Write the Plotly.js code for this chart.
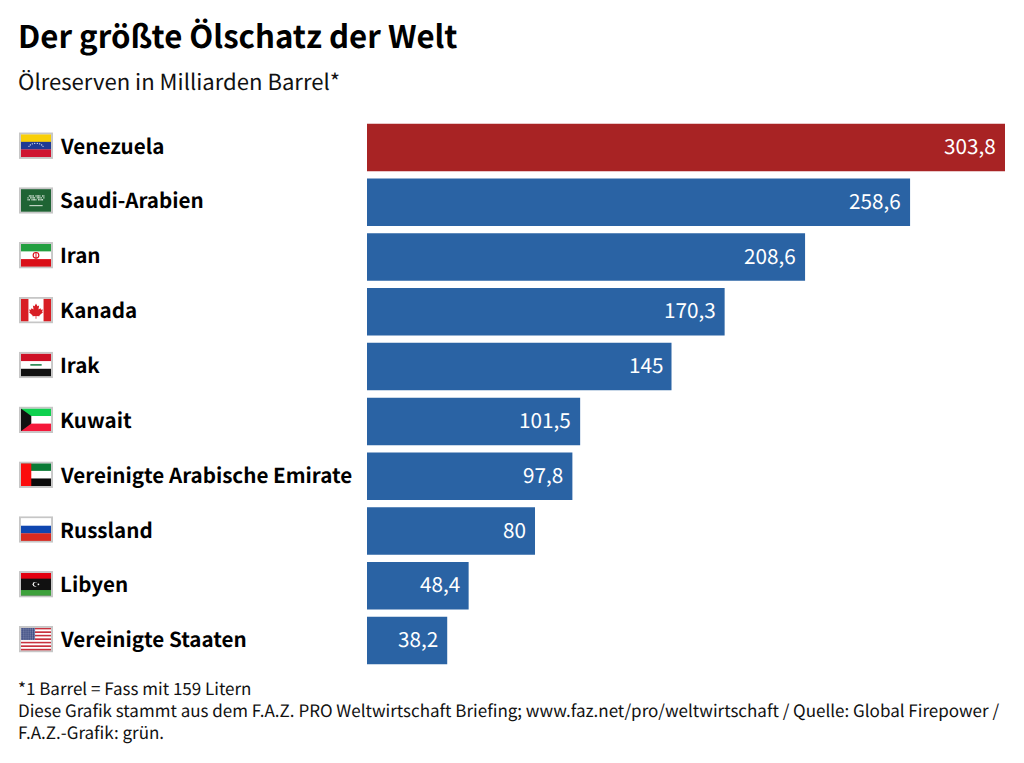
<!DOCTYPE html>
<html><head><meta charset="utf-8">
<script src="https://cdn.plot.ly/plotly-3.0.1.min.js"></script>
<style>html,body{margin:0;padding:0;background:#fff}#c{width:1024px;height:763px}svg text{font-feature-settings:"liga" 1;text-rendering:geometricPrecision}</style>
</head><body><div id="c"></div>
<script>
const countries=["Venezuela","Saudi-Arabien","Iran","Kanada","Irak","Kuwait","Vereinigte Arabische Emirate","Russland","Libyen","Vereinigte Staaten"];
const reserves=[303.8,258.6,208.6,170.3,145,101.5,97.8,80,48.4,38.2];
const valueLabels=["303,8","258,6","208,6","170,3","145","101,5","97,8","80","48,4","38,2"];
const barColors=["#a82324","#2a63a4","#2a63a4","#2a63a4","#2a63a4","#2a63a4","#2a63a4","#2a63a4","#2a63a4","#2a63a4"];
const FONT='"Noto Sans CJK SC","Noto Sans",sans-serif';
const W=1024,H=763,L=367,R=1005,T=120.4,B=667.8;
const px=x=>(x-L)/(R-L), py=y=>(B-y)/(B-T);

function stripes(cols){const h=24/cols.length;return cols.map((c,i)=>`<rect x="0" y="${i*h}" width="32" height="${h+0.2}" fill="${c}"/>`).join('');}
const usStripes=()=>{let s='';for(let i=0;i<13;i++)s+=`<rect x="0" y="${i*24/13}" width="32" height="${24/13+0.1}" fill="${i%2?'#fff':'#c8313e'}"/>`;
  s+='<rect width="15" height="12.9" fill="#3c4a80"/>';
  for(let r=0;r<6;r++)for(let c=0;c<7;c++)s+=`<circle cx="${1+c*2.2}" cy="${1.2+r*2.1}" r=".55" fill="#dfe3f0"/>`;return s;};
const venStars=()=>{let s='';for(let i=0;i<8;i++){const a=Math.PI*(0.12+i*0.76/7);s+=`<circle cx="${16-8*Math.cos(a)}" cy="${14.5-5*Math.sin(a)}" r=".65" fill="#fff"/>`;}return s;};
const saudi=()=>{let s='<rect width="32" height="24" fill="#1f6434"/>';for(let r=0;r<3;r++)for(let c=0;c<13;c++)if((c*7+r*3)%5!==0)s+=`<rect x="${7+c*1.4}" y="${6.5+r*2}" width="1.1" height="1.5" fill="#d6e4d8"/>`;return s+'<rect x="9" y="17" width="14" height="1" fill="#e8f0e8"/>';};
const flags=[
 stripes(["#f9cf07","#1f3a94","#cf1430"])+venStars(),
 saudi(),
 stripes(["#239f40","#ffffff","#da0f18"])+'<circle cx="16" cy="12" r="3" fill="none" stroke="#da0f18" stroke-width="1.2"/><rect x="15.5" y="8.5" width="1" height="7" fill="#da0f18"/>',
 '<rect width="32" height="24" fill="#fff"/><rect width="8" height="24" fill="#d81e24"/><rect x="24" width="8" height="24" fill="#d81e24"/><path d="M16 5l1.6 3 1.7-.8-.7 4 2.2-1.2.5 1.5 2-.3-.8 2.6.9.5-3.6 3-.2 1.2-3.2-.4v3h-.8v-3l-3.2.4-.2-1.2-3.6-3 .9-.5-.8-2.6 2 .3.5-1.5 2.2 1.2-.7-4 1.7.8z" fill="#d81e24"/>',
 stripes(["#ce1126","#ffffff","#111111"])+'<rect x="10" y="11" width="12" height="1.8" fill="#2e8b57"/>',
 stripes(["#0fd14f","#ffffff","#f5183a"])+'<path d="M0 0L11 8V16L0 24Z" fill="#111"/>',
 stripes(["#0a7a35","#ffffff","#0b0b0b"])+'<rect width="11" height="24" fill="#fb0d0d"/>',
 stripes(["#ffffff","#0f46b0","#d82a20"]),
 '<rect width="32" height="24" fill="#111"/><rect width="32" height="6" fill="#e3000f"/><rect y="18" width="32" height="6" fill="#3ea13c"/><circle cx="15" cy="12" r="2.6" fill="#fff"/><circle cx="15.9" cy="12" r="2.1" fill="#111"/><circle cx="18.6" cy="12" r=".9" fill="#fff"/>',
 usStripes()
];
const flagSrc=f=>'data:image/svg+xml;charset=utf-8,'+encodeURIComponent(`<svg xmlns="http://www.w3.org/2000/svg" width="36" height="28" viewBox="-2 -2 36 28" preserveAspectRatio="none">${f}<rect x="-1" y="-1" width="34" height="26" fill="none" stroke="#c6c6c6" stroke-width="2"/></svg>`);

const rowY=i=>146+54.78*i;
const images=countries.map((c,i)=>({source:flagSrc(flags[i]),xref:'paper',yref:'paper',x:px(19),y:py(rowY(i)),sizex:34/(R-L),sizey:26.5/(B-T),xanchor:'left',yanchor:'middle',sizing:'stretch',layer:'above'}));

const note=(x,y,text,size,bold,color)=>({xref:'paper',yref:'paper',x:px(x-2),y:py(y),text:bold?`<b>${text}</b>`:text,showarrow:false,xanchor:'left',yanchor:'middle',align:'left',font:{family:FONT,size:size,color:color||'#111'}});

const footer=['*1 Barrel = Fass mit 159 Litern','Diese Grafik stammt aus dem F.A.Z. PRO Weltwirtschaft Briefing; www.faz.net/pro/weltwirtschaft / Quelle: Global Firepower /','F.A.Z.-Grafik: grün.'];
const annotations=[
 note(18,35,'Der größte Ölschatz der Welt',31.2,true,'#000'),
 note(18,81.5,'Ölreserven in Milliarden Barrel*',22.1,false,'#111'),
 note(18,709.5,footer.join('<br>'),17,false,'#111'),
 ...countries.map((c,i)=>note(60,rowY(i)-1,c,20.6,true,'#000')),
 ...countries.map((c,i)=>({xref:'x',yref:'y',x:reserves[i],y:c,text:valueLabels[i],showarrow:false,xanchor:'right',yanchor:'middle',xshift:-7,yshift:2.5,font:{family:FONT,size:20.7,color:'#fff'}}))
];

Plotly.newPlot('c',[{type:'bar',orientation:'h',y:countries,x:reserves,marker:{color:barColors,line:{width:0}},hoverinfo:'skip'}],{
 width:W,height:H,paper_bgcolor:'#fff',plot_bgcolor:'#fff',showlegend:false,bargap:0.133,
 margin:{l:L,r:W-R,t:T,b:H-B,pad:0},
 xaxis:{range:[0,303.8],visible:false,fixedrange:true},
 yaxis:{type:'category',categoryorder:'array',categoryarray:countries,autorange:'reversed',showticklabels:false,showgrid:false,zeroline:false,showline:false,ticks:'',fixedrange:true},
 annotations,images
},{displayModeBar:false,staticPlot:true});
</script></body></html>
